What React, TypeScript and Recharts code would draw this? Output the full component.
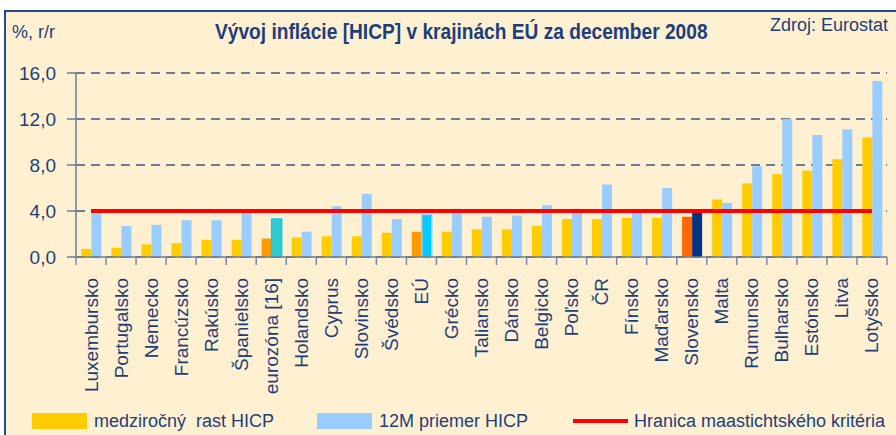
import React from "react";
import {
  ComposedChart, Bar, Line, XAxis, YAxis, CartesianGrid, Cell,
} from "recharts";

const categories = [
  "Luxembursko", "Portugalsko", "Nemecko", "Francúzsko", "Rakúsko", "Španielsko",
  "eurozóna [16]", "Holandsko", "Cyprus", "Slovinsko", "Švédsko", "EÚ", "Grécko",
  "Taliansko", "Dánsko", "Belgicko", "Poľsko", "ČR", "Fínsko", "Maďarsko",
  "Slovensko", "Malta", "Rumunsko", "Bulharsko", "Estónsko", "Litva", "Lotyšsko",
];

// medziročný rast HICP (dec 2008)
const annualRate = [
  0.7, 0.8, 1.1, 1.2, 1.5, 1.5, 1.6, 1.7, 1.8, 1.8, 2.1, 2.2, 2.2, 2.4,
  2.4, 2.7, 3.3, 3.3, 3.4, 3.4, 3.5, 5.0, 6.4, 7.2, 7.5, 8.5, 10.4,
];

// 12M priemer HICP
const avg12M = [
  4.1, 2.7, 2.8, 3.2, 3.2, 4.1, 3.3, 2.2, 4.4, 5.5, 3.3, 3.7, 4.2, 3.5,
  3.6, 4.5, 4.2, 6.3, 3.9, 6.0, 3.9, 4.7, 7.9, 12.0, 10.6, 11.1, 15.3,
];

const criterion = 4.0;
const yTicks = [0, 4, 8, 12, 16];

const FONT = "'Liberation Sans', Arial, sans-serif";
const TEXT = "#1c3f7c";
const BG = "#fff0d2";

// special colouring for aggregates and Slovakia
const highlight: Record<string, { rate: string; avg: string; avgStroke?: string }> = {
  "eurozóna [16]": { rate: "#ff9900", avg: "#33cccc", avgStroke: "#00ccff" },
  "EÚ": { rate: "#ff9900", avg: "#00ccff", avgStroke: "#99ccff" },
  "Slovensko": { rate: "#ff6600", avg: "#003380" },
};

const rows = categories.map((name, i) => ({
  name,
  rate: annualRate[i],
  avg: avg12M[i],
  limit: criterion,
}));

function CategoryTick(props: any) {
  const { x, y, payload, index, visibleTicksCount } = props;
  const half = payload?.offset ?? 15;
  const last = index === visibleTicksCount - 1;
  return (
    <g>
      <line x1={x - half} x2={x - half} y1={y} y2={y + 8} stroke="#7a8aa4" strokeWidth={1.5} />
      {last && (
        <line x1={x + half} x2={x + half} y1={y} y2={y + 8} stroke="#7a8aa4" strokeWidth={1.5} />
      )}
      <text
        x={x} y={y + 21} dy={6.5}
        transform={`rotate(-90, ${x}, ${y + 21})`}
        textAnchor="end" fill={TEXT}
        style={{ fontFamily: FONT, fontSize: 19 }}
      >
        {payload.value}
      </text>
    </g>
  );
}

const legendItems = [
  { label: "medziročný  rast HICP", kind: "box", color: "#ffcc00", left: 32 },
  { label: "12M priemer HICP", kind: "box", color: "#99ccff", left: 317 },
  { label: "Hranica maastichtského kritéria", kind: "line", color: "#ff0000", left: 573 },
];

export default function App() {
  return (
    <div style={{ position: "absolute", left: 0, top: 0, width: 896, height: 435, background: "#fff", overflow: "hidden", fontFamily: FONT }}>
      <div style={{
        position: "absolute", left: 4, top: 10, width: 920, height: 460,
        background: BG, borderLeft: "2px solid #1f4c8a", borderTop: "2px solid #1f4c8a",
      }} />

      <div style={{ position: "absolute", left: 12, top: 22, fontSize: 18, color: TEXT, lineHeight: "20px" }}>%, r/r</div>
      <div style={{ position: "absolute", left: 215, top: 19, fontSize: 22, fontWeight: "bold", color: TEXT, lineHeight: "26px", transform: "scaleX(0.87)", transformOrigin: "left center", whiteSpace: "nowrap" }}>
        Vývoj inflácie [HICP] v krajinách EÚ za december 2008
      </div>
      <div style={{ position: "absolute", left: 770, top: 15, fontSize: 18, color: TEXT, lineHeight: "20px", whiteSpace: "nowrap" }}>Zdroj: Eurostat</div>

      <div style={{ position: "absolute", left: 0, top: 0 }}>
        <ComposedChart
          width={896} height={435} data={rows}
          margin={{ top: 73, right: 9, bottom: 28, left: 16 }}
          barCategoryGap="18%" barGap={0}
        >
          <CartesianGrid vertical={false} stroke="#3f5878" strokeDasharray="9 6" strokeWidth={1.3} />
          <XAxis
            dataKey="name" height={150} interval={0}
            tickSize={0} tickMargin={0} tickLine={false}
            axisLine={{ stroke: "#6b7d95", strokeWidth: 1.5 }}
            tick={<CategoryTick />}
          />
          <YAxis
            width={60} domain={[0, 16]} ticks={yTicks} interval={0}
            tickSize={9} tickMargin={11}
            axisLine={{ stroke: "#6b7d95", strokeWidth: 1.5 }}
            tickLine={{ stroke: "#6b7d95", strokeWidth: 1.5 }}
            tick={{ fill: TEXT, fontSize: 19, fontFamily: FONT }}
            tickFormatter={(v: number) => v.toFixed(1).replace(".", ",")}
          />
          <Bar dataKey="rate" fill="#ffcc00" isAnimationActive={false}>
            {rows.map(r => (
              <Cell key={r.name} fill={highlight[r.name]?.rate ?? "#ffcc00"} />
            ))}
          </Bar>
          <Bar dataKey="avg" fill="#99ccff" isAnimationActive={false}>
            {rows.map(r => (
              <Cell
                key={r.name}
                fill={highlight[r.name]?.avg ?? "#99ccff"}
                stroke={highlight[r.name]?.avgStroke ?? "none"}
                strokeWidth={1.5}
              />
            ))}
          </Bar>
          <Line
            dataKey="limit" stroke="#ff0000" strokeWidth={4}
            dot={false} activeDot={false} isAnimationActive={false}
          />
        </ComposedChart>
      </div>

      {legendItems.map(item => (
        <div key={item.label} style={{ position: "absolute", left: item.left, top: 411, height: 20, display: "flex", alignItems: "center", whiteSpace: "pre" }}>
          {item.kind === "box"
            ? <span style={{ display: "inline-block", width: 55, height: 16, background: item.color }} />
            : <span style={{ display: "inline-block", width: 55, height: 4, background: item.color }} />}
          <span style={{ marginLeft: item.kind === "box" ? 7 : 6, fontSize: 18, color: TEXT }}>{item.label}</span>
        </div>
      ))}
    </div>
  );
}
